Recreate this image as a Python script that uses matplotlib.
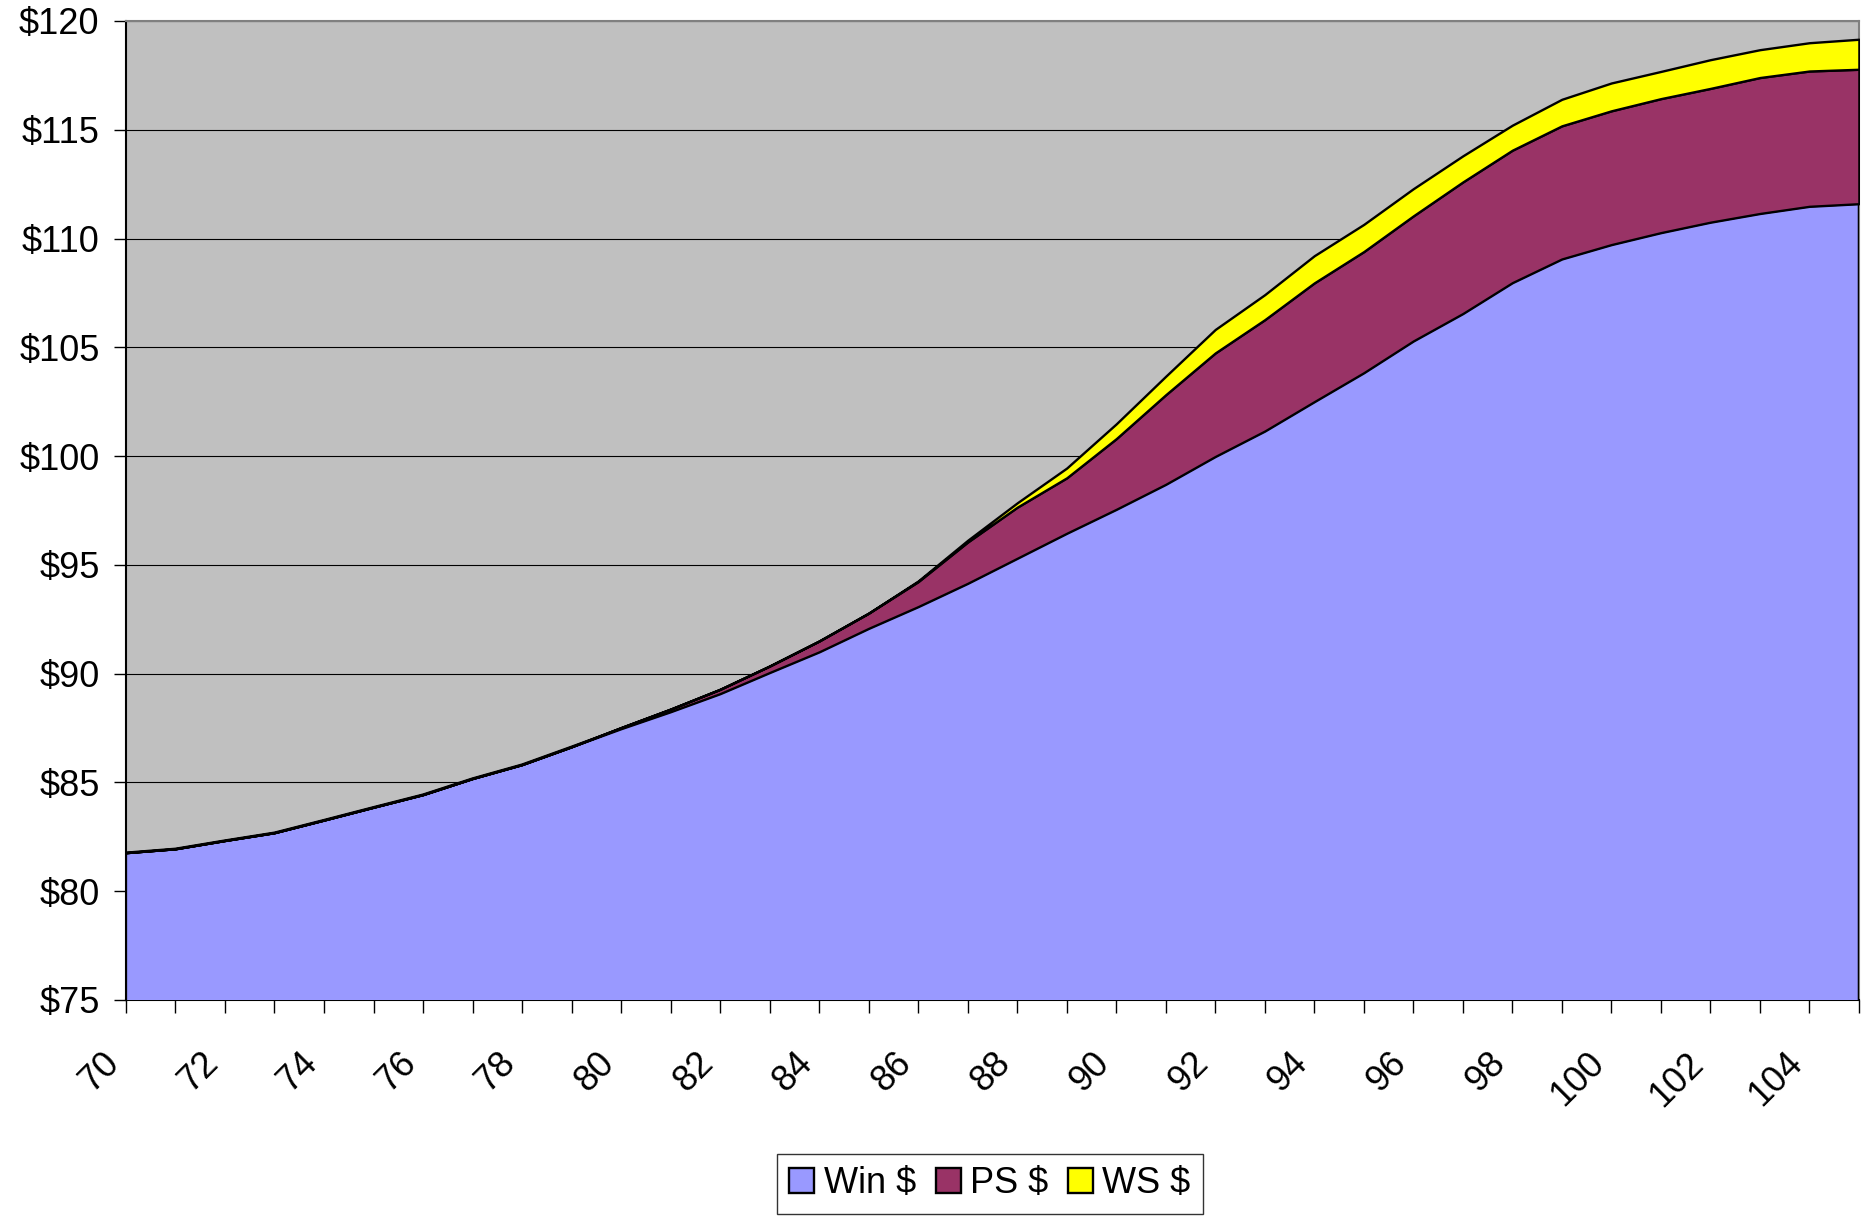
import numpy as np
import matplotlib.pyplot as plt
import matplotlib.transforms as mtransforms

plt.rcParams['font.family'] = ['Liberation Sans', 'DejaVu Sans']

# Data
scores = list(range(70, 106))
win_dollars = [81.77, 81.95, 82.33, 82.69, 83.27, 83.86, 84.44, 85.18, 85.82, 86.64,
               87.47, 88.25, 89.08, 90.05, 91.00, 92.08, 93.08, 94.15, 95.30, 96.45,
               97.55, 98.70, 99.98, 101.15, 102.50, 103.83, 105.29, 106.55, 107.97, 109.06,
               109.72, 110.27, 110.75, 111.15, 111.48, 111.60]
ps_dollars = [0, 0, 0, 0, 0, 0, 0, 0, 0, 0,
              0.05, 0.12, 0.20, 0.30, 0.50, 0.70, 1.15, 1.90, 2.35, 2.55,
              3.25, 4.12, 4.76, 5.12, 5.46, 5.57, 5.75, 6.05, 6.09, 6.12,
              6.15, 6.16, 6.15, 6.25, 6.22, 6.18]
ws_dollars = [0, 0, 0, 0, 0, 0, 0, 0, 0, 0,
              0, 0, 0, 0, 0, 0, 0.03, 0.08, 0.20, 0.45,
              0.68, 0.85, 1.08, 1.15, 1.25, 1.25, 1.25, 1.20, 1.15, 1.22,
              1.28, 1.25, 1.32, 1.28, 1.30, 1.38]
labels = ['Win $', 'PS $', 'WS $']
colors = ['#9999FF', '#993366', '#FFFF00']
yticks = list(range(75, 121, 5))

fig = plt.figure(figsize=(18.66, 12.19), dpi=100)
ax = fig.add_axes([0.0675, 0.1797, 0.9287, 0.8031])
ax.set_facecolor('#C0C0C0')

ax.stackplot(scores, win_dollars, ps_dollars, ws_dollars, labels=labels,
             colors=colors, edgecolor='black', linewidth=1.7, zorder=3)

ax.set_xlim(70, 105)
ax.set_ylim(75, 120)
ax.set_yticks(yticks)
ax.set_yticklabels(['$%d' % v for v in yticks])
ax.set_xticks(scores)
ax.set_xticklabels([str(s) if s % 2 == 0 else '' for s in scores],
                   rotation=45, ha='right')

# nudge the slanted score labels a little left of their ticks
shift = mtransforms.ScaledTranslation(-8 / 100, 0, fig.dpi_scale_trans)
for lbl in ax.get_xticklabels():
    lbl.set_transform(lbl.get_transform() + shift)

ax.yaxis.grid(True, color='black', linewidth=0.8, zorder=1)
ax.set_axisbelow(True)
ax.tick_params(axis='both', direction='out', length=9, width=1, colors='black',
               labelsize=26, pad=10)
ax.tick_params(axis='x', pad=24)

for side in ['top', 'right']:
    ax.spines[side].set_color('#808080')
    ax.spines[side].set_linewidth(1.5)
for side in ['left', 'bottom']:
    ax.spines[side].set_color('black')
    ax.spines[side].set_linewidth(1.5)

leg = fig.legend(loc='center', bbox_to_anchor=(0.5305, 0.029), ncol=3,
                 fontsize=26, frameon=True, fancybox=False, handlelength=0.7,
                 handleheight=0.7, handletextpad=0.25, columnspacing=0.55,
                 borderpad=0.35)
leg.get_frame().set_edgecolor('black')
leg.get_frame().set_linewidth(1.0)

fig.savefig('out.png', dpi=100)
